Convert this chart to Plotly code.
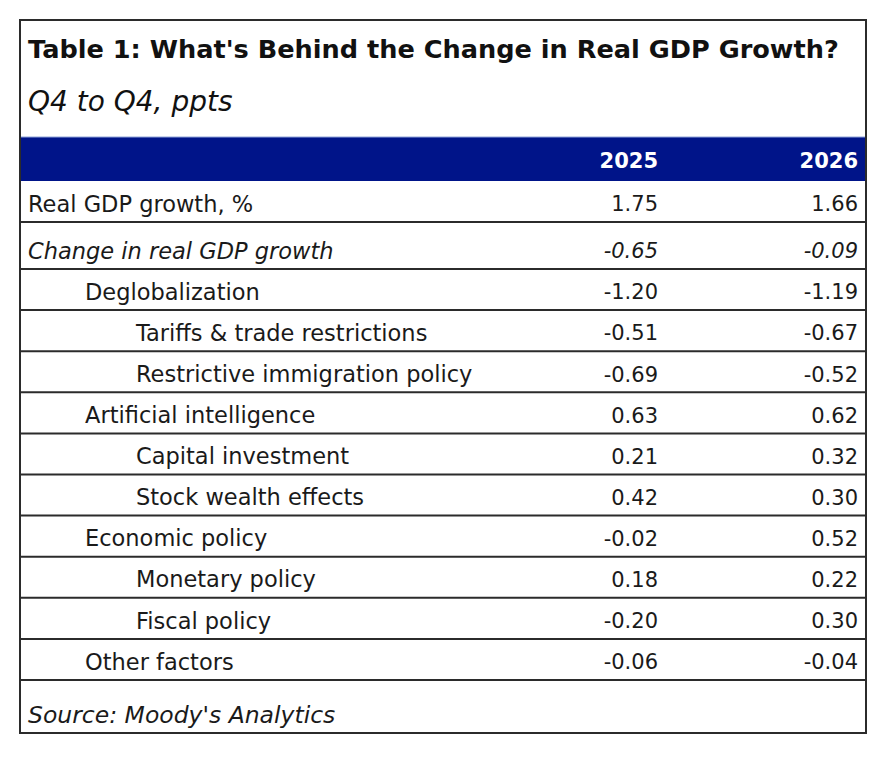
import plotly.graph_objects as go

# table contents
title = "Table 1: What's Behind the Change in Real GDP Growth?"
subtitle = "Q4 to Q4, ppts"
source = "Source: Moody's Analytics"
years = ["2025", "2026"]

labels = ["Real GDP growth, %", "Change in real GDP growth", "Deglobalization",
          "Tariffs & trade restrictions", "Restrictive immigration policy",
          "Artificial intelligence", "Capital investment", "Stock wealth effects",
          "Economic policy", "Monetary policy", "Fiscal policy", "Other factors"]
level = [0, 0, 1, 2, 2, 1, 2, 2, 1, 2, 2, 1]
v2025 = [1.75, -0.65, -1.20, -0.51, -0.69, 0.63, 0.21, 0.42, -0.02, 0.18, -0.20, -0.06]
v2026 = [1.66, -0.09, -1.19, -0.67, -0.52, 0.62, 0.32, 0.30, 0.52, 0.22, 0.30, -0.04]
italic_row = [False, True] + [False]*10

navy = "#001489"
ink = "#1a1a1a"
font = "DejaVu Sans"
fsz_lab = 22.5
fsz_num = 21

# geometry (pixel-like data units, y pointing down)
left, right, top, bottom = 20, 866, 20, 733
band_top, band_bot = 137, 181
bounds = [band_bot, 222, 269]
step = (680 - 269) / 10
for i in range(10):
    bounds.append(269 + step*(i+1))
col_right = [658, 858]
indent_x = {0: 28, 1: 85, 2: 136}

fig = go.Figure()

shapes = []
shapes.append(dict(type="rect", x0=left, x1=right, y0=band_top, y1=band_bot,
                   fillcolor=navy, line=dict(width=0), layer="below"))
shapes.append(dict(type="line", x0=left, x1=right, y0=band_top, y1=band_top,
                   line=dict(color="#8ea2d8", width=1)))
for b in bounds[1:]:
    shapes.append(dict(type="line", x0=left, x1=right, y0=b, y1=b,
                       line=dict(color="#2b2b2b", width=2)))
shapes.append(dict(type="rect", x0=left, x1=right, y0=top, y1=bottom,
                   line=dict(color="#2b2b2b", width=2)))

ymid = [bounds[i+1] - 16 for i in range(len(labels))]

def fmt(v, it):
    s = "%.2f" % v
    return "<i>%s</i>" % s if it else s

lab_txt = ["<i>%s</i>" % l if it else l for l, it in zip(labels, italic_row)]
fig.add_trace(go.Scatter(x=[indent_x[l] for l in level], y=ymid, mode="text",
                         text=lab_txt, textposition="middle right",
                         textfont=dict(family=font, size=fsz_lab, color=ink),
                         hoverinfo="skip", showlegend=False))
for k, vals in enumerate([v2025, v2026]):
    fig.add_trace(go.Scatter(x=[col_right[k]]*len(vals), y=ymid, mode="text",
                             text=[fmt(v, it) for v, it in zip(vals, italic_row)],
                             textposition="middle left",
                             textfont=dict(family=font, size=fsz_num, color=ink),
                             hoverinfo="skip", showlegend=False))
    fig.add_trace(go.Scatter(x=[col_right[k]], y=[(band_top+band_bot)/2 + 4], mode="text",
                             text=["<b>%s</b>" % years[k]], textposition="middle left",
                             textfont=dict(family=font, size=fsz_num, color="white"),
                             hoverinfo="skip", showlegend=False))

annots = [
    dict(x=26, y=49, text="<b>%s</b>" % title, font=dict(family=font, size=25.6, color="#111")),
    dict(x=26, y=101, text="<i>%s</i>" % subtitle, font=dict(family=font, size=28, color="#111")),
    dict(x=26, y=715, text="<i>%s</i>" % source, font=dict(family=font, size=23.5, color=ink)),
]
for a in annots:
    a.update(xref="x", yref="y", xanchor="left", yanchor="middle", showarrow=False)

# page body has an 8px margin, so the ranges start at 8
fig.update_layout(width=890, height=758, autosize=False,
                  margin=dict(l=0, r=0, t=0, b=0),
                  paper_bgcolor="white", plot_bgcolor="white",
                  shapes=shapes, annotations=annots,
                  xaxis=dict(range=[8, 898], visible=False, fixedrange=True),
                  yaxis=dict(range=[766, 8], visible=False, fixedrange=True))

fig.write_html("out.html")
